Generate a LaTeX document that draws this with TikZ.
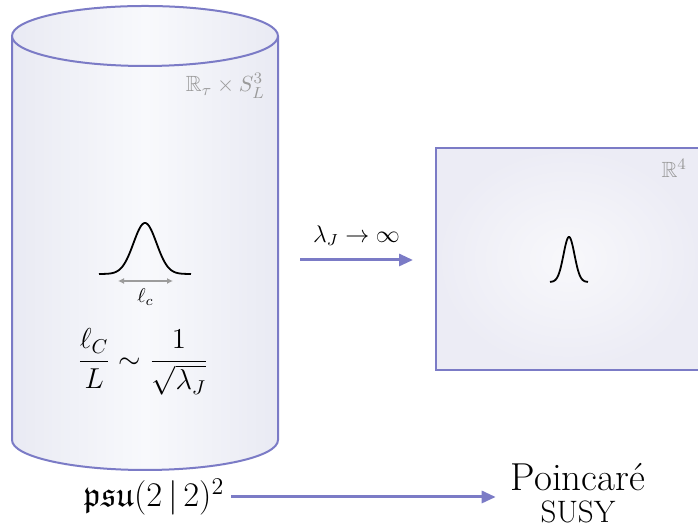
\documentclass[tikz,border=0pt]{standalone}
\usepackage{amsmath,amssymb}
\usetikzlibrary{positioning,arrows.meta}
\definecolor{CylEdge}{HTML}{7B7BC6}
\definecolor{CylSide}{HTML}{E9EAF3}
\definecolor{CylMid}{HTML}{F8F9FC}
\definecolor{BoxInner}{HTML}{F8F8FB}
\definecolor{BoxOuter}{HTML}{ECECF5}
\definecolor{TagGrey}{HTML}{9A9A9A}
\definecolor{WidthGrey}{HTML}{9C9C9C}

\begin{document}
\begin{tikzpicture}[
    x=0.5pt,y=0.5pt,
    edge/.style={draw=CylEdge,line width=1pt},
    body/.style={left color=CylSide,right color=CylSide,middle color=CylMid},
    arrow/.style={-{Triangle[length=7pt,width=6pt]},line width=1.5pt,draw=CylEdge},
    widtharrow/.style={{Latex[length=3pt,width=3pt]}-{Latex[length=3pt,width=3pt]},line width=0.8pt,draw=WidthGrey},
    peak/.style={line width=0.9pt,black,smooth},
    tag/.style={text=TagGrey,font=\fontsize{11}{13}\selectfont}
  ]
    \useasboundingbox (0,0) rectangle (698,529);
    % cylinder R x S^3
    \path[body] (12,493) -- (12,89) arc[start angle=180,end angle=360,x radius=66.5pt,y radius=15pt] -- (278,493) -- cycle;
    \draw[edge] (12,493) -- (12,89) arc[start angle=180,end angle=360,x radius=66.5pt,y radius=15pt] -- (278,493);
    \draw[edge,body] (145,493) ellipse [x radius=66.5pt,y radius=15pt];
    \node[tag,anchor=east] (cyltag) at (272,443) {$\mathbb{R}_\tau\times S^3_L$};
    \draw[peak] plot[domain=-46:46,samples=80] ({145+\x},{255+51*exp(-0.5*(\x/11.5)*(\x/11.5))});
    \coordinate (wl) at (118,248);
    \coordinate (wr) at (173,248);
    \draw[widtharrow] (wl) -- node[below=0pt] (ellc) {$\ell_c$} (wr);
    \node[font=\Large] (ratio) at (143,167) {$\dfrac{\ell_C}{L}\sim\dfrac{1}{\sqrt{\lambda_J}}$};
    % flat space R^4
    \draw[edge,inner color=BoxInner,outer color=BoxOuter] (436,381) rectangle (700,159);
    \node[tag,anchor=east] (flattag) at (694,361) {$\mathbb{R}^4$};
    \draw[peak] plot[domain=-19:19,samples=60] ({569+\x},{247+45*exp(-0.5*(\x/5.5)*(\x/5.5))});
    % limit
    \coordinate (limfrom) at (300,269);
    \coordinate (limto) at (413,269);
    \draw[arrow] (limfrom) -- node[above=3pt,font=\large] (limit) {$\lambda_J\to\infty$} (limto);
    % algebras
    \node[font=\LARGE] (psu) at (154,32) {$\mathfrak{psu}(2\,|\,2)^2$};
    \node[align=center,font=\fontsize{19.5}{20}\selectfont] (poin) at (578,36) {Poincar\'e\\[-4pt]{\fontsize{15.5}{17}\selectfont SUSY}};
    \draw[arrow] (psu) -- ([xshift=-4pt]psu -| poin.west);
  \end{tikzpicture}
\end{document}
